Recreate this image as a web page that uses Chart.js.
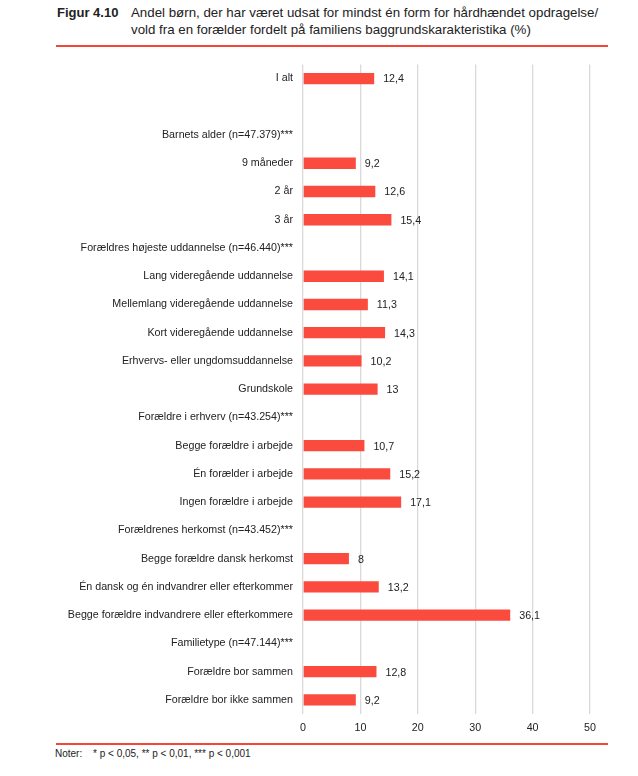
<!DOCTYPE html>
<html>
<head>
<meta charset="utf-8">
<script src="https://cdn.jsdelivr.net/npm/chart.js@4"></script>
<style>
  body { margin: 0; background: #fff; font-family: "Liberation Sans", Arial, sans-serif; }
  #page { position: relative; width: 638px; height: 776px; }
  .title { position: absolute; top: 4px; left: 0; font-size: 13px; line-height: 17px; color: #222; white-space: nowrap; }
  .title b { position: absolute; left: 57px; top: 0; }
  .title span { position: absolute; left: 131px; top: 0; font-size: 13.3px; }
  .rule { position: absolute; left: 56px; width: 552px; height: 2px; background: #f4473a; }
  .notes { position: absolute; left: 55px; top: 748px; font-size: 10px; color: #222; white-space: nowrap; }
  .notes span { position: absolute; left: 38px; }
  #wrap { position: absolute; left: 0; top: 48px; width: 638px; height: 692px; }
</style>
</head>
<body>
<div id="page">
  <div class="title"><b>Figur 4.10</b><span>Andel børn, der har været udsat for mindst én form for hårdhændet opdragelse/<br>vold fra en forælder fordelt på familiens baggrundskarakteristika (%)</span></div>
  <div class="rule" style="top:45px"></div>
  <div id="wrap"><canvas id="chart"></canvas></div>
  <div class="rule" style="top:743px"></div>
  <div class="notes">Noter:<span>* p &lt; 0,05, ** p &lt; 0,01, *** p &lt; 0,001</span></div>
</div>
<script>
// categories top to bottom, null share = heading row without a bar
const categories = [
    'I alt',
    '',
    'Barnets alder (n=47.379)***',
    '9 måneder',
    '2 år',
    '3 år',
    'Forældres højeste uddannelse (n=46.440)***',
    'Lang videregående uddannelse',
    'Mellemlang videregående uddannelse',
    'Kort videregående uddannelse',
    'Erhvervs- eller ungdomsuddannelse',
    'Grundskole',
    'Forældre i erhverv (n=43.254)***',
    'Begge forældre i arbejde',
    'Én forælder i arbejde',
    'Ingen forældre i arbejde',
    'Forældrenes herkomst (n=43.452)***',
    'Begge forældre dansk herkomst',
    'Én dansk og én indvandrer eller efterkommer',
    'Begge forældre indvandrere eller efterkommere',
    'Familietype (n=47.144)***',
    'Forældre bor sammen',
    'Forældre bor ikke sammen'
];
const shares = [12.4, null, null, 9.2, 12.6, 15.4, null, 14.1, 11.3, 14.3, 10.2, 13, null, 10.7, 15.2, 17.1, null, 8, 13.2, 36.1, null, 12.8, 9.2];
const xTicks = [0, 10, 20, 30, 40, 50];

const FONT = '"Liberation Sans", Arial, sans-serif';

// draw value labels next to each bar, comma as decimal separator
const valueLabels = {
    id: 'valueLabels',
    afterDatasetsDraw(chart) {
        const ctx = chart.ctx;
        const meta = chart.getDatasetMeta(0);
        ctx.save();
        ctx.font = '10.7px ' + FONT;
        ctx.fillStyle = '#222';
        ctx.textBaseline = 'middle';
        meta.data.forEach((bar, i) => {
            const v = shares[i];
            if (v === null) return;
            ctx.fillText(String(v).replace('.', ','), bar.x + 9, bar.y + 1);
        });
        ctx.restore();
    }
};

new Chart(document.getElementById('chart'), {
    type: 'bar',
    data: {
        labels: categories,
        datasets: [{
            data: shares,
            backgroundColor: '#fa4b3e',
            borderWidth: 0,
            categoryPercentage: 1,
            barPercentage: 0.4
        }]
    },
    options: {
        indexAxis: 'y',
        responsive: true,
        maintainAspectRatio: false,
        animation: false,
        layout: { padding: { top: 4, right: 48, bottom: 0, left: 0 } },
        plugins: {
            legend: { display: false },
            tooltip: { enabled: false }
        },
        scales: {
            x: {
                min: 0,
                max: 50,
                afterBuildTicks: (scale) => { scale.ticks = xTicks.map(v => ({ value: v })); },
                afterFit: (scale) => { scale.height = 26; },
                grid: { color: '#d9d9d9', lineWidth: 1.3, drawTicks: false },
                border: { display: false },
                ticks: {
                    color: '#222',
                    padding: 8,
                    font: { family: FONT, size: 10.7 }
                }
            },
            y: {
                afterFit: (scale) => { scale.width = 303; },
                grid: { display: false, drawTicks: false },
                border: { display: false },
                ticks: {
                    color: '#222',
                    padding: 10,
                    autoSkip: false,
                    font: { family: FONT, size: 10.7 }
                }
            }
        }
    },
    plugins: [valueLabels]
});
</script>
</body>
</html>
